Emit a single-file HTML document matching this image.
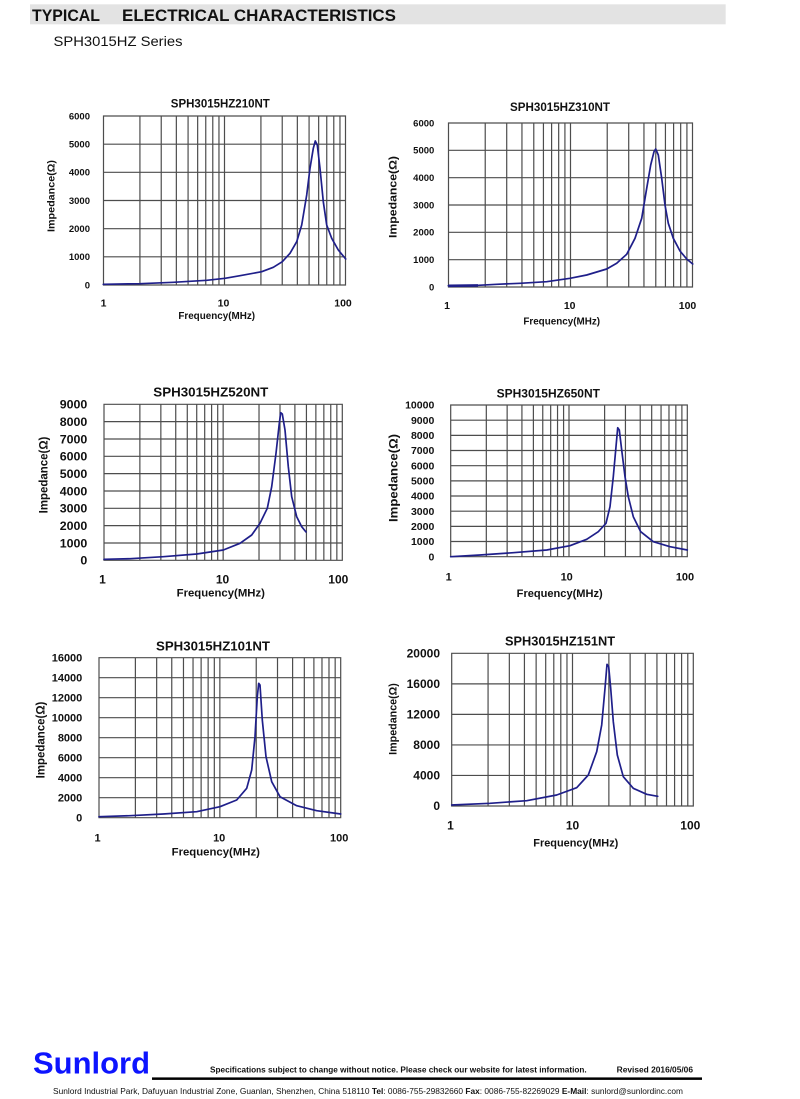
<!DOCTYPE html>
<html><head><meta charset="utf-8"><style>
html,body{margin:0;padding:0;background:#fff;}
svg{display:block;}
text{font-family:"Liberation Sans",Arial,sans-serif;}
.t{font-weight:bold;fill:#111;}
.g{fill:none;stroke:#4d4d4d;stroke-width:1.2;}
.c{fill:none;stroke:#1f1f8a;stroke-width:1.7;stroke-linejoin:round;stroke-linecap:round;}
</style></head><body>
<svg width="800" height="1099" viewBox="0 0 800 1099" xmlns="http://www.w3.org/2000/svg">
<rect x="0" y="0" width="800" height="1099" fill="#fff"/>
<!-- header -->
<rect x="30" y="4.3" width="695.7" height="20" fill="#e3e3e3"/>
<text x="32" y="21" font-size="16.5" class="t" textLength="68" lengthAdjust="spacingAndGlyphs">TYPICAL</text>
<text x="122" y="21" font-size="16.5" class="t" textLength="274" lengthAdjust="spacingAndGlyphs">ELECTRICAL CHARACTERISTICS</text>
<text x="53.5" y="46" font-size="14" fill="#111" textLength="129" lengthAdjust="spacingAndGlyphs">SPH3015HZ Series</text>

<!-- ================= Chart 1 ================= -->
<g transform="translate(103.5 116) scale(121 169)">
<path class="g" vector-effect="non-scaling-stroke" d="M0 0H2V1H0Z M0.30103 0V1M0.47712 0V1M0.60206 0V1M0.69897 0V1M0.77815 0V1M0.8451 0V1M0.90309 0V1M0.95424 0V1M1 0V1M1.30103 0V1M1.47712 0V1M1.60206 0V1M1.69897 0V1M1.77815 0V1M1.8451 0V1M1.90309 0V1M1.95424 0V1 M0 0.16667H2M0 0.33333H2M0 0.5H2M0 0.66667H2M0 0.83333H2"/>
</g>
<polyline class="c" points="103.3,284.3 140,283.7 173.3,282.3 206.7,280.3 225,278.3 240,275.7 261.7,271.7 273.3,267.3 282.3,261.7 290,253.3 296.7,241.7 301.7,225 306.7,195 310,168.3 313.3,148.3 315.3,141 317.3,145 320,168.3 323.3,201.7 326.7,225 331.7,238.3 338.3,250 345.7,259"/>
<text x="220.3" y="107.3" font-size="11.5" class="t" text-anchor="middle" textLength="99" lengthAdjust="spacingAndGlyphs">SPH3015HZ210NT</text>
<g font-size="9.5" class="t" text-anchor="end">
<text x="90" y="288.4">0</text><text x="90" y="260.2">1000</text><text x="90" y="232.1">2000</text><text x="90" y="203.9">3000</text><text x="90" y="175.7">4000</text><text x="90" y="147.6">5000</text><text x="90" y="119.4">6000</text>
</g>
<g font-size="10.5" class="t" text-anchor="middle">
<text x="103.5" y="306.5">1</text><text x="223.5" y="306.5">10</text><text x="343" y="306.5">100</text>
</g>
<text x="216.7" y="319" font-size="10" class="t" text-anchor="middle" textLength="76.7" lengthAdjust="spacingAndGlyphs">Frequency(MHz)</text>
<text transform="translate(54.7 196) rotate(-90)" font-size="10.5" class="t" text-anchor="middle" textLength="72" lengthAdjust="spacingAndGlyphs">Impedance(Ω)</text>

<!-- ================= Chart 2 ================= -->
<g transform="translate(448.5 123) scale(122 164)">
<path class="g" vector-effect="non-scaling-stroke" d="M0 0H2V1H0Z M0.30103 0V1M0.47712 0V1M0.60206 0V1M0.69897 0V1M0.77815 0V1M0.8451 0V1M0.90309 0V1M0.95424 0V1M1 0V1M1.30103 0V1M1.47712 0V1M1.60206 0V1M1.69897 0V1M1.77815 0V1M1.8451 0V1M1.90309 0V1M1.95424 0V1 M0 0.16667H2M0 0.33333H2M0 0.5H2M0 0.66667H2M0 0.83333H2"/>
</g>
<polyline class="c" points="448.3,285.7 478.3,285.3 496.7,284.3 520,283.3 546.7,281.7 570,278.3 586.7,275 606.7,269 616.7,263.3 626.7,254.3 635,238.3 641.7,218.3 646.7,188.3 650.7,165 654,151.7 655.7,149 658.3,155 661.7,178.3 665,205 668.3,223.3 673.3,238.3 680,251 686.7,259 692.7,264"/>
<line x1="448.5" y1="285.8" x2="478" y2="285.4" stroke="#1f1f8a" stroke-width="2.6"/>
<text x="560" y="111" font-size="11.5" class="t" text-anchor="middle" textLength="100" lengthAdjust="spacingAndGlyphs">SPH3015HZ310NT</text>
<g font-size="9.5" class="t" text-anchor="end">
<text x="434.3" y="290.4">0</text><text x="434.3" y="263.1">1000</text><text x="434.3" y="235.7">2000</text><text x="434.3" y="208.4">3000</text><text x="434.3" y="181.1">4000</text><text x="434.3" y="153.7">5000</text><text x="434.3" y="126.4">6000</text>
</g>
<g font-size="10.5" class="t" text-anchor="middle">
<text x="447" y="309">1</text><text x="569.7" y="309">10</text><text x="687.5" y="309">100</text>
</g>
<text x="561.7" y="324.5" font-size="10" class="t" text-anchor="middle" textLength="76.7" lengthAdjust="spacingAndGlyphs">Frequency(MHz)</text>
<text transform="translate(396.5 197) rotate(-90)" font-size="11" class="t" text-anchor="middle" textLength="82" lengthAdjust="spacingAndGlyphs">Impedance(Ω)</text>

<!-- ================= Chart 3 ================= -->
<g transform="translate(104 404.3) scale(119.15 156)">
<path class="g" vector-effect="non-scaling-stroke" d="M0 0H2V1H0Z M0.30103 0V1M0.47712 0V1M0.60206 0V1M0.69897 0V1M0.77815 0V1M0.8451 0V1M0.90309 0V1M0.95424 0V1M1 0V1M1.30103 0V1M1.47712 0V1M1.60206 0V1M1.69897 0V1M1.77815 0V1M1.8451 0V1M1.90309 0V1M1.95424 0V1 M0 0.11111H2M0 0.22222H2M0 0.33333H2M0 0.44444H2M0 0.55556H2M0 0.66667H2M0 0.77778H2M0 0.88889H2"/>
</g>
<polyline class="c" points="104,559.3 130,558.7 163.3,556.7 196.7,554 223.3,550 240,543.3 251.7,535 260,523.3 267.3,508.3 271.7,486.7 276,453.3 279.3,423.3 280.7,412.7 282.3,414 285,430 288.3,466.7 291.7,496.7 296.7,516.7 301.7,526.7 306,532"/>
<text x="210.8" y="396.5" font-size="13.3" class="t" text-anchor="middle" textLength="115" lengthAdjust="spacingAndGlyphs">SPH3015HZ520NT</text>
<g font-size="12.4" class="t" text-anchor="end">
<text x="87.3" y="564.6">0</text><text x="87.3" y="547.3">1000</text><text x="87.3" y="530">2000</text><text x="87.3" y="512.6">3000</text><text x="87.3" y="495.3">4000</text><text x="87.3" y="478">5000</text><text x="87.3" y="460.6">6000</text><text x="87.3" y="443.3">7000</text><text x="87.3" y="426">8000</text><text x="87.3" y="408.6">9000</text>
</g>
<g font-size="12" class="t" text-anchor="middle">
<text x="102.5" y="583.3">1</text><text x="222.5" y="583.3">10</text><text x="338.3" y="583.3">100</text>
</g>
<text x="220.8" y="596.5" font-size="11.4" class="t" text-anchor="middle" textLength="88.3" lengthAdjust="spacingAndGlyphs">Frequency(MHz)</text>
<text transform="translate(47.3 475) rotate(-90)" font-size="11.5" class="t" text-anchor="middle" textLength="76.7" lengthAdjust="spacingAndGlyphs">Impedance(Ω)</text>

<!-- ================= Chart 4 ================= -->
<g transform="translate(450.7 405) scale(118.3 151.7)">
<path class="g" vector-effect="non-scaling-stroke" d="M0 0H2V1H0Z M0.30103 0V1M0.47712 0V1M0.60206 0V1M0.69897 0V1M0.77815 0V1M0.8451 0V1M0.90309 0V1M0.95424 0V1M1 0V1M1.30103 0V1M1.47712 0V1M1.60206 0V1M1.69897 0V1M1.77815 0V1M1.8451 0V1M1.90309 0V1M1.95424 0V1 M0 0.1H2M0 0.2H2M0 0.3H2M0 0.4H2M0 0.5H2M0 0.6H2M0 0.7H2M0 0.8H2M0 0.9H2"/>
</g>
<polyline class="c" points="450.7,556.7 480,555 513.3,552.7 546.7,550 570,545.7 586.7,539.3 598.3,531.7 606,523.3 610,506.7 613.3,476.7 616,446.7 617.7,427.7 619.3,430 621.7,450 625,476.7 628.3,496.7 633.3,516.7 640.7,531.7 653.3,541.7 670,546.7 687.3,550"/>
<text x="548.3" y="397.3" font-size="12.3" class="t" text-anchor="middle" textLength="103.3" lengthAdjust="spacingAndGlyphs">SPH3015HZ650NT</text>
<g font-size="10.5" class="t" text-anchor="end">
<text x="434.3" y="560.4">0</text><text x="434.3" y="545.2">1000</text><text x="434.3" y="530">2000</text><text x="434.3" y="514.9">3000</text><text x="434.3" y="499.7">4000</text><text x="434.3" y="484.5">5000</text><text x="434.3" y="469.4">6000</text><text x="434.3" y="454.2">7000</text><text x="434.3" y="439">8000</text><text x="434.3" y="423.9">9000</text><text x="434.3" y="408.7">10000</text>
</g>
<g font-size="11" class="t" text-anchor="middle">
<text x="448.7" y="580.7">1</text><text x="566.7" y="580.7">10</text><text x="685" y="580.7">100</text>
</g>
<text x="559.7" y="597" font-size="11" class="t" text-anchor="middle" textLength="86" lengthAdjust="spacingAndGlyphs">Frequency(MHz)</text>
<text transform="translate(397.5 478) rotate(-90)" font-size="12" class="t" text-anchor="middle" textLength="88" lengthAdjust="spacingAndGlyphs">Impedance(Ω)</text>

<!-- ================= Chart 5 ================= -->
<g transform="translate(99 657.7) scale(120.85 160)">
<path class="g" vector-effect="non-scaling-stroke" d="M0 0H2V1H0Z M0.30103 0V1M0.47712 0V1M0.60206 0V1M0.69897 0V1M0.77815 0V1M0.8451 0V1M0.90309 0V1M0.95424 0V1M1 0V1M1.30103 0V1M1.47712 0V1M1.60206 0V1M1.69897 0V1M1.77815 0V1M1.8451 0V1M1.90309 0V1M1.95424 0V1 M0 0.125H2M0 0.25H2M0 0.375H2M0 0.5H2M0 0.625H2M0 0.75H2M0 0.875H2"/>
</g>
<polyline class="c" points="99,816.7 130,815.7 163.3,814 196.7,811.7 220,806.7 236.7,800 246.7,788.3 251.7,770 255,736.7 257.3,696.7 258.7,683.3 260,685 262.3,720 266,756.7 271.7,781.7 280,796.7 296.7,805.7 316.7,810.7 340.7,814"/>
<text x="213" y="650.7" font-size="13.2" class="t" text-anchor="middle" textLength="114" lengthAdjust="spacingAndGlyphs">SPH3015HZ101NT</text>
<g font-size="11" class="t" text-anchor="end">
<text x="82.3" y="821.6">0</text><text x="82.3" y="801.6">2000</text><text x="82.3" y="781.6">4000</text><text x="82.3" y="761.6">6000</text><text x="82.3" y="741.6">8000</text><text x="82.3" y="721.6">10000</text><text x="82.3" y="701.6">12000</text><text x="82.3" y="681.6">14000</text><text x="82.3" y="661.6">16000</text>
</g>
<g font-size="11" class="t" text-anchor="middle">
<text x="97.5" y="841.5">1</text><text x="219.2" y="841.5">10</text><text x="339.2" y="841.5">100</text>
</g>
<text x="215.8" y="855.5" font-size="11.4" class="t" text-anchor="middle" textLength="88.3" lengthAdjust="spacingAndGlyphs">Frequency(MHz)</text>
<text transform="translate(44.5 740) rotate(-90)" font-size="11.5" class="t" text-anchor="middle" textLength="76.7" lengthAdjust="spacingAndGlyphs">Impedance(Ω)</text>

<!-- ================= Chart 6 ================= -->
<g transform="translate(451.7 653.3) scale(120.8 152.7)">
<path class="g" vector-effect="non-scaling-stroke" d="M0 0H2V1H0Z M0.30103 0V1M0.47712 0V1M0.60206 0V1M0.69897 0V1M0.77815 0V1M0.8451 0V1M0.90309 0V1M0.95424 0V1M1 0V1M1.30103 0V1M1.47712 0V1M1.60206 0V1M1.69897 0V1M1.77815 0V1M1.8451 0V1M1.90309 0V1M1.95424 0V1 M0 0.2H2M0 0.4H2M0 0.6H2M0 0.8H2"/>
</g>
<polyline class="c" points="451.7,805 490,803.3 526.7,800.7 556.7,795 576.7,787.7 588.3,775 596.7,751.7 601.7,725 605,688.3 607,664.3 608.7,666.7 610.7,688.3 613.3,721.7 617.3,755 623.3,776.7 633.3,788.3 646.7,794.3 657.7,796.3"/>
<text x="560" y="645.7" font-size="12.7" class="t" text-anchor="middle" textLength="110" lengthAdjust="spacingAndGlyphs">SPH3015HZ151NT</text>
<g font-size="12" class="t" text-anchor="end">
<text x="440" y="810.2">0</text><text x="440" y="779.7">4000</text><text x="440" y="749.1">8000</text><text x="440" y="718.6">12000</text><text x="440" y="688.1">16000</text><text x="440" y="657.5">20000</text>
</g>
<g font-size="12" class="t" text-anchor="middle">
<text x="450.5" y="829.3">1</text><text x="572.5" y="829.3">10</text><text x="690.3" y="829.3">100</text>
</g>
<text x="575.8" y="846.3" font-size="11" class="t" text-anchor="middle" textLength="85" lengthAdjust="spacingAndGlyphs">Frequency(MHz)</text>
<text transform="translate(396.3 719) rotate(-90)" font-size="11" class="t" text-anchor="middle" textLength="71.7" lengthAdjust="spacingAndGlyphs">Impedance(Ω)</text>

<!-- ================= Footer ================= -->
<text x="33" y="1073.3" font-size="31" font-weight="bold" fill="#0d14ff" textLength="117" lengthAdjust="spacingAndGlyphs">Sunlord</text>
<rect x="152" y="1077.4" width="550" height="2.5" fill="#000"/>
<text x="210" y="1072.3" font-size="8" class="t" textLength="376.7" lengthAdjust="spacingAndGlyphs">Specifications subject to change without notice. Please check our website for latest information.</text>
<text x="616.7" y="1072.3" font-size="8" class="t" textLength="76.3" lengthAdjust="spacingAndGlyphs">Revised 2016/05/06</text>
<text x="53" y="1094" font-size="8" fill="#111" textLength="630" lengthAdjust="spacingAndGlyphs">Sunlord Industrial Park, Dafuyuan Industrial Zone, Guanlan, Shenzhen, China 518110 <tspan font-weight="bold">Tel</tspan>: 0086-755-29832660 <tspan font-weight="bold">Fax</tspan>: 0086-755-82269029 <tspan font-weight="bold">E-Mail</tspan>: sunlord@sunlordinc.com</text>
</svg>
</body></html>
